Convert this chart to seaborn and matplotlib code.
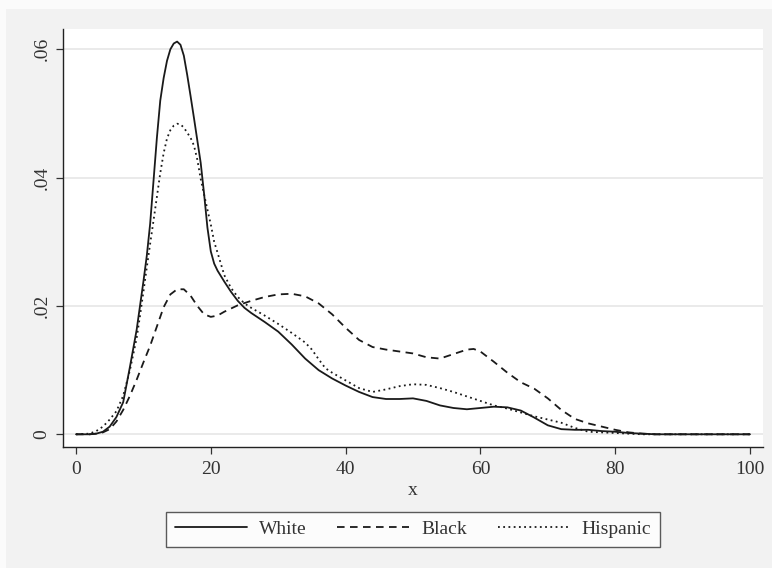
import pandas as pd
import seaborn as sns
import matplotlib.pyplot as plt
from matplotlib.patches import Rectangle

# density values
white_x = [0, 2, 3, 4, 5, 6, 7, 8, 9, 10, 10.5, 11, 11.5, 12, 12.5, 13, 13.5, 14, 14.5, 15,
           15.5, 16, 16.5, 17, 17.5, 18, 18.5, 19, 19.5, 20, 20.5, 21, 22, 23, 24, 25, 26,
           28, 30, 32, 34, 36, 38, 40, 42, 44, 46, 48, 50, 52, 54, 56, 58, 60, 62, 64, 66,
           68, 70, 72, 74, 76, 78, 80, 82, 84, 86, 90, 100]
white_y = [0, 0, 0.0001, 0.0004, 0.0012, 0.0027, 0.0050, 0.0105, 0.0163, 0.0238, 0.0278,
           0.0328, 0.0395, 0.0462, 0.0520, 0.0555, 0.0582, 0.0600, 0.0609, 0.0612,
           0.0607, 0.0590, 0.0560, 0.0527, 0.0493, 0.0458, 0.0423, 0.0375, 0.0322, 0.0285,
           0.0266, 0.0255, 0.0238, 0.0222, 0.0208, 0.0197, 0.0189,
           0.0175, 0.0160, 0.0140, 0.0118, 0.0100, 0.0087, 0.0076, 0.0066, 0.0058, 0.0055,
           0.0055, 0.0056, 0.0052, 0.0045, 0.0041, 0.0039, 0.0041, 0.0043, 0.0042, 0.0037,
           0.0026, 0.0014, 0.0008, 0.0007, 0.0007, 0.0005, 0.0004, 0.0002, 0.0001, 0, 0, 0]

black_x = [0, 2, 3, 4, 5, 6, 7, 8, 9, 10, 11, 12, 13, 14, 15, 16, 17, 18, 19, 20, 21, 22,
           24, 26, 28, 30, 32, 34, 36, 38, 40, 42, 44, 46, 48, 50, 52, 54, 56, 58, 59, 60,
           62, 64, 66, 68, 70, 72, 74, 76, 78, 80, 82, 84, 86, 90, 100]
black_y = [0, 0, 0.0001, 0.0003, 0.0008, 0.0020, 0.0038, 0.0060, 0.0085, 0.0112, 0.0138,
           0.0168, 0.0198, 0.0218, 0.0226, 0.0226, 0.0216, 0.0200, 0.0187, 0.0183, 0.0185,
           0.0191, 0.0201, 0.0208, 0.0214, 0.0218, 0.0219, 0.0215, 0.0204, 0.0187, 0.0166,
           0.0147, 0.0136, 0.0132, 0.0129, 0.0126, 0.0120, 0.0118, 0.0125, 0.0132, 0.0133,
           0.0129, 0.0113, 0.0096, 0.0081, 0.0071, 0.0056, 0.0038, 0.0024, 0.0017, 0.0012,
           0.0007, 0.0003, 0.0001, 0, 0, 0]

hisp_x = [0, 2, 3, 4, 5, 6, 7, 8, 9, 9.5, 10, 10.5, 11, 11.5, 12, 12.5, 13, 13.5, 14, 14.5,
          15, 15.5, 16, 16.5, 17, 17.5, 18, 18.5, 19, 19.5, 20, 20.5, 21, 22, 23, 24, 25, 26,
          28, 30, 32, 34, 35, 36, 37, 38, 40, 42, 44, 46, 48, 50, 52, 54, 56, 58, 60, 62,
          64, 66, 68, 70, 72, 74, 76, 78, 80, 82, 84, 86, 90, 100]
hisp_y = [0, 0.0001, 0.0005, 0.0012, 0.0023, 0.0036, 0.0060, 0.0100, 0.0150, 0.0185, 0.0222,
          0.0260, 0.0297, 0.0333, 0.0370, 0.0407, 0.0438, 0.0461, 0.0474, 0.0481,
          0.0484, 0.0483, 0.0478, 0.0470, 0.0462, 0.0450, 0.0428, 0.0398, 0.0374, 0.0350,
          0.0327, 0.0300, 0.0283, 0.0248, 0.0228, 0.0214, 0.0204, 0.0197,
          0.0185, 0.0172, 0.0158, 0.0143, 0.0132, 0.0117, 0.0103, 0.0096, 0.0084, 0.0072,
          0.0066, 0.0070, 0.0075, 0.0078, 0.0077, 0.0072, 0.0066, 0.0059, 0.0052, 0.0045,
          0.0040, 0.0034, 0.0028, 0.0023, 0.0018, 0.0010, 0.0004, 0.0003, 0.0002, 0.0001,
          0, 0, 0, 0]

groups = ["White", "Black", "Hispanic"]
x_ticks = [0, 20, 40, 60, 80, 100]
y_ticks = [0, 0.02, 0.04, 0.06]
y_ticklabels = ["0", ".02", ".04", ".06"]

df = pd.concat([
    pd.DataFrame({"x": white_x, "density": white_y, "group": "White"}),
    pd.DataFrame({"x": black_x, "density": black_y, "group": "Black"}),
    pd.DataFrame({"x": hisp_x, "density": hisp_y, "group": "Hispanic"}),
], ignore_index=True)

sns.set_style("ticks")
plt.rcParams['font.family'] = ['Liberation Serif', 'DejaVu Serif']
plt.rcParams['font.size'] = 14

fig = plt.figure(figsize=(7.72, 5.68), dpi=100, facecolor='#fbfbfb')
fig.patches.append(Rectangle((6 / 772, 0), 1, 1 - 9 / 568, transform=fig.transFigure,
                             facecolor='#f2f2f2', edgecolor='none', zorder=-1))
ax = fig.add_axes([63 / 772, 1 - 447 / 568, 700 / 772, 418 / 568])
ax.set_facecolor('white')

ax.grid(axis='y', color='#e6e6e6', linewidth=1.2)
ax.set_axisbelow(True)

sns.lineplot(
    data=df, x='x', y='density', style='group', style_order=groups,
    dashes={"White": "", "Black": (4.2, 3.0), "Hispanic": (1.0, 1.9)},
    color='#1a1a1a', linewidth=1.3, estimator=None, sort=False, ax=ax
)

ax.set_xlim(-1.93, 101.93)
ax.set_ylim(-0.00198, 0.06316)
ax.set_xticks(x_ticks)
ax.set_yticks(y_ticks)
ax.set_yticklabels(y_ticklabels, rotation=90, va='center')
ax.tick_params(axis='both', length=5, width=0.9, color='#333333', labelcolor='#333333')
ax.tick_params(axis='x', pad=5)
ax.tick_params(axis='y', pad=4)
ax.set_xlabel('x', color='#333333', labelpad=3)
ax.set_ylabel('')

for side in ['top', 'right']:
    ax.spines[side].set_visible(False)
for side in ['left', 'bottom']:
    ax.spines[side].set_linewidth(1.0)
    ax.spines[side].set_color('#222222')

leg = ax.legend(loc='center', bbox_to_anchor=(0.5, -0.197), ncol=3, frameon=True,
                fancybox=False, handlelength=3.7, handletextpad=0.6, columnspacing=1.6,
                borderpad=0.45, fontsize=14)
leg.get_frame().set_edgecolor('#333333')
leg.get_frame().set_linewidth(1.0)
for t in leg.get_texts():
    t.set_color('#333333')

plt.savefig('out.png', dpi=100, facecolor=fig.get_facecolor())
